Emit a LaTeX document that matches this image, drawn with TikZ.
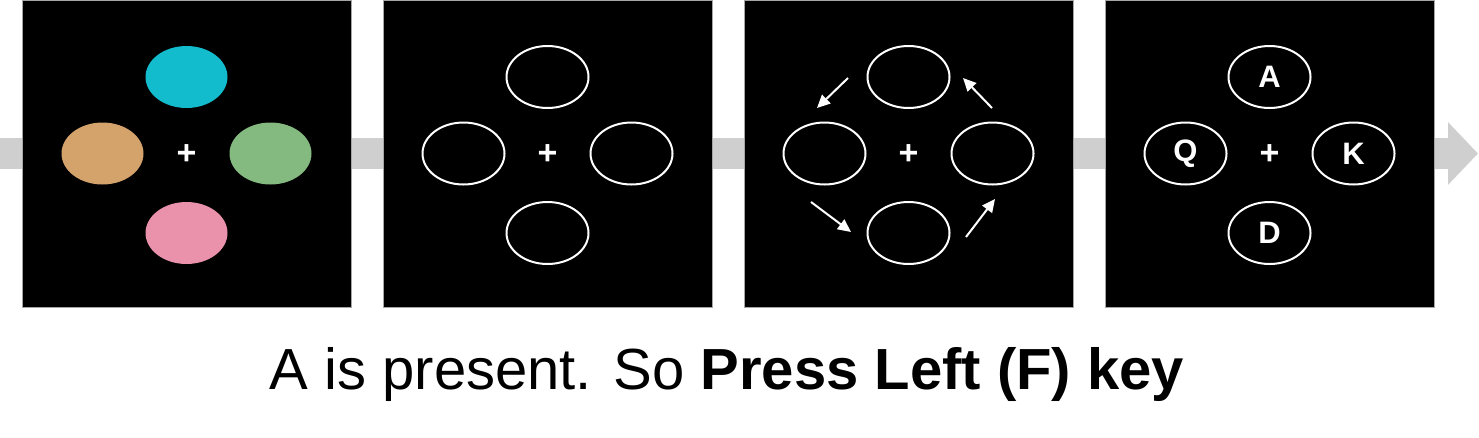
\documentclass[tikz,border=0pt]{standalone}
\usepackage{fontspec}
\setmainfont{Liberation Sans}
\usetikzlibrary{arrows.meta,positioning,shapes.geometric}

\definecolor{cueblue}{RGB}{18,188,204}
\definecolor{cuetan}{RGB}{212,163,108}
\definecolor{cuegreen}{RGB}{132,185,128}
\definecolor{cuepink}{RGB}{234,145,172}
\definecolor{timeline}{RGB}{208,207,208}

\begin{document}
\begin{tikzpicture}[x=1pt, y=-1pt, on grid, node distance=76.5pt and 84pt, >={Triangle[length=13pt,width=12pt]}]
		\tikzstyle{panel}=[fill=black,draw=gray!70,minimum width=329pt,minimum height=307pt,inner sep=0pt]
		\tikzstyle{disc}=[ellipse,minimum width=82pt,minimum height=62pt,inner sep=0pt]
		\tikzstyle{ring}=[disc,draw=white,line width=2pt,text=white,font=\bfseries\fontsize{31}{32}\selectfont]
		\tikzstyle{fix}=[text=white,inner sep=0pt,yshift=-1.5pt,font=\bfseries\fontsize{34}{35}\selectfont]
		\tikzstyle{cue}=[white,line width=2pt,->]
		\useasboundingbox (0,0) rectangle (1479,437);
		% time line behind the frames
		\coordinate (t0) at (0,153.5);
		\coordinate (t1) at (1478,153.5);
		\draw[timeline,line width=31pt,-{Triangle[length=30pt,width=61pt]}] (t0) -- (t1);
		% frames
		\node[panel]    (P1) at (186.5,153.5) {};
		\node[panel]    (P2)[right = 361pt of P1] {};
		\node[panel]    (P3)[right = 361pt of P2] {};
		\node[panel]    (P4)[right = 361pt of P3] {};
		% frame 1: colour cues
		\node[fix]      (F1) at (P1) {+};
		\node[disc,fill=cueblue]    (T1)[above = of P1] {};
		\node[disc,fill=cuetan]     (L1)[left = of P1]  {};
		\node[disc,fill=cuegreen]   (R1)[right = of P1] {};
		\node[disc,fill=cuepink]    (B1)[below = 79.5pt of P1] {};
		% frame 2: empty placeholders
		\node[fix]      (F2) at (P2) {+};
		\node[ring]     (T2)[above = of P2] {};
		\node[ring]     (L2)[left = of P2]  {};
		\node[ring]     (R2)[right = of P2] {};
		\node[ring]     (B2)[below = 79.5pt of P2] {};
		% frame 3: rotation
		\node[fix]      (F3) at (P3) {+};
		\node[ring]     (T3)[above = of P3] {};
		\node[ring]     (L3)[left = of P3]  {};
		\node[ring]     (R3)[right = of P3] {};
		\node[ring]     (B3)[below = 79.5pt of P3] {};
		\coordinate (a1) at (848,78);   \coordinate (b1) at (817,108);
		\coordinate (a2) at (811,202);  \coordinate (b2) at (851,232);
		\coordinate (a3) at (966,237);  \coordinate (b3) at (995,199);
		\coordinate (a4) at (992,108);  \coordinate (b4) at (963,78);
		\draw[cue] (a1) -- (b1);
		\draw[cue] (a2) -- (b2);
		\draw[cue] (a3) -- (b3);
		\draw[cue] (a4) -- (b4);
		% frame 4: letters
		\node[fix]      (F4) at (P4) {+};
		\node[ring]     (T4)[above = of P4] {A};
		\node[ring]     (L4)[left = of P4]  {Q};
		\node[ring]     (R4)[right = of P4] {K};
		\node[ring]     (B4)[below = 79.5pt of P4] {D};
		% answer
		\node[anchor=base,inner sep=0pt,font=\fontsize{58}{60}\selectfont] (ans) at (727,389) {A is present. So \textbf{Press Left (F) key}};
	\end{tikzpicture}
\end{document}
